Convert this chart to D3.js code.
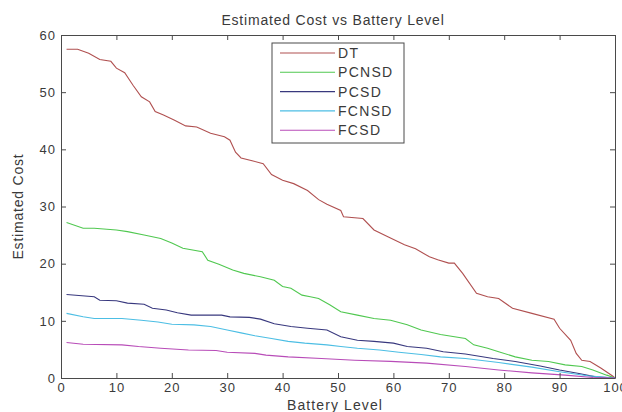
<!DOCTYPE html>
<meta charset="utf-8">
<style>
body { margin: 0; background: #fff; }
text { font-family: "Liberation Sans", Arial, sans-serif; fill: #3a3a3a; }
</style>
<body>
<div id="box1"></div>
<script src="https://d3js.org/d3.v7.min.js"></script>
<script>

// battery level / estimated cost
var dtX = [1, 3, 5, 7, 9, 10, 11.5, 13, 14.5, 16, 17, 18.5, 20.5, 22.5, 24.5, 27, 29.5, 30.5, 31.5, 32.5, 34.5, 36.5, 38, 40, 42, 44.5, 46.5, 48, 50.5, 51, 54.5, 56.5, 59, 62, 64, 66.5, 68, 70, 71, 72.5, 75, 77, 79, 81.5, 85, 89, 90, 92, 93, 94, 95.5, 97.5, 99.5, 100]
var dtY = [57.5, 57.5, 56.8, 55.7, 55.4, 54.2, 53.4, 51.2, 49.2, 48.3, 46.6, 46, 45.1, 44.1, 43.9, 42.8, 42.2, 41.6, 39.5, 38.5, 38, 37.5, 35.6, 34.6, 34, 32.8, 31.2, 30.4, 29.3, 28.2, 27.9, 25.9, 24.7, 23.3, 22.6, 21.2, 20.7, 20.1, 20.1, 18.3, 14.8, 14.2, 13.9, 12.2, 11.3, 10.3, 8.7, 6.6, 4.3, 3.1, 2.9, 1.7, 0.4, 0]

var pcnsdX = [1, 4, 6, 10, 12, 15, 18, 20, 22, 25.5, 26.5, 28.5, 31, 33, 36, 38.5, 40, 41.5, 43.5, 45, 46.5, 48.5, 50.5, 53.5, 56.5, 59.5, 62.5, 65, 68.5, 73, 74.5, 77, 79, 82, 85, 88, 91, 94, 96, 98.5, 100]
var pcnsdY = [27.2, 26.2, 26.2, 25.9, 25.6, 25, 24.4, 23.6, 22.7, 22.1, 20.6, 19.9, 18.9, 18.3, 17.7, 17.1, 16, 15.7, 14.5, 14.2, 13.9, 12.8, 11.6, 11, 10.4, 10.1, 9.3, 8.4, 7.6, 6.9, 5.8, 5.2, 4.6, 3.7, 3.1, 2.9, 2.3, 2, 1.4, 0.5, 0]

var pcsdX = [1, 6, 7, 10, 12, 15, 16.5, 19, 21, 23.5, 29, 30.5, 34, 36, 38.5, 41.5, 44.5, 48, 50.5, 53.5, 56.5, 60, 62.5, 66, 69, 73, 78, 82, 86.5, 90, 93.5, 96.5, 100]
var pcsdY = [14.6, 14.2, 13.6, 13.5, 13.1, 12.9, 12.2, 11.9, 11.4, 11, 11, 10.7, 10.6, 10.3, 9.5, 9, 8.7, 8.4, 7.2, 6.6, 6.4, 6.1, 5.5, 5.2, 4.6, 4.2, 3.4, 2.9, 2.1, 1.4, 0.8, 0.2, 0]

var fcnsdX = [1, 4, 6, 11, 14.5, 17.5, 20, 24, 27, 30, 32.5, 35, 38, 41, 44, 48, 50.5, 53.5, 57.5, 61, 65, 68.5, 73, 79, 85, 90, 95, 100]
var fcnsdY = [11.3, 10.7, 10.4, 10.4, 10.1, 9.8, 9.4, 9.3, 9, 8.4, 7.9, 7.4, 6.9, 6.4, 6.1, 5.8, 5.5, 5.2, 4.9, 4.5, 4.1, 3.7, 3.4, 2.7, 1.9, 1.1, 0.4, 0]

var fcsdX = [1, 4, 11, 14, 18, 23, 28, 30, 35, 37, 41, 47, 53, 59.5, 66, 73, 79, 85, 91, 96, 100]
var fcsdY = [6.2, 5.9, 5.8, 5.5, 5.2, 4.9, 4.8, 4.5, 4.3, 4.0, 3.7, 3.4, 3.1, 2.9, 2.6, 2.0, 1.4, 0.9, 0.5, 0.1, 0]

var names = ["DT", "PCNSD", "PCSD", "FCNSD", "FCSD"]
var colors = ["#b05050", "#50c850", "#38387e", "#4cbee4", "#b84cb8"]
var xTicks = [0, 10, 20, 30, 40, 50, 60, 70, 80, 90, 100]
var yTicks = [0, 10, 20, 30, 40, 50, 60]

var series = [[dtX, dtY], [pcnsdX, pcnsdY], [pcsdX, pcsdY], [fcnsdX, fcnsdY], [fcsdX, fcsdY]]
  .map((s, i) => ({name: names[i], color: colors[i], pts: s[0].map((x, j) => [x, s[1][j]])}))

var width = 622, height = 412
var margin = {top: 35, right: 7, bottom: 34, left: 61}

var x = d3.scaleLinear().domain([0, 100]).range([margin.left, width - margin.right])
var y = d3.scaleLinear().domain([0, 60]).range([height - margin.bottom, margin.top])

var svg = d3.select("#box1").append("svg")
    .attr("width", width)
    .attr("height", height)

// lines
var line = d3.line().x(d => x(d[0])).y(d => y(d[1]))
svg.append("g").selectAll("path")
  .data(series)
  .join("path")
    .attr("fill", "none")
    .attr("stroke", d => d.color)
    .attr("stroke-width", 1.1)
    .attr("d", d => line(d.pts))

// axes, ticks pointing inward on all four sides
svg.append("g")
    .attr("transform", `translate(0,${y(0)})`)
    .call(d3.axisBottom(x).tickValues(xTicks).tickSizeInner(-5).tickSizeOuter(0).tickPadding(5))
svg.append("g")
    .attr("transform", `translate(0,${y(60)})`)
    .call(d3.axisTop(x).tickValues(xTicks).tickSizeInner(-5).tickSizeOuter(0).tickFormat(""))
svg.append("g")
    .attr("transform", `translate(${x(0)},0)`)
    .call(d3.axisLeft(y).tickValues(yTicks).tickSizeInner(-5).tickSizeOuter(0).tickPadding(5))
svg.append("g")
    .attr("transform", `translate(${x(100)},0)`)
    .call(d3.axisRight(y).tickValues(yTicks).tickSizeInner(-5).tickSizeOuter(0).tickFormat(""))

svg.selectAll(".domain, .tick line").attr("stroke", "#4a4a4a")
svg.selectAll(".tick text")
    .style("font-size", "13px")
    .style("letter-spacing", "1px")
    .style("fill", "#3a3a3a")

// titles
svg.append("text")
    .attr("x", 333)
    .attr("y", 25)
    .attr("text-anchor", "middle")
    .style("font-size", "14px")
    .style("letter-spacing", "0.8px")
    .text("Estimated Cost vs Battery Level")

svg.append("text")
    .attr("x", 335)
    .attr("y", 410)
    .attr("text-anchor", "middle")
    .style("font-size", "14px")
    .style("letter-spacing", "1.1px")
    .text("Battery Level")

svg.append("text")
    .attr("transform", `translate(23,${(y(0) + y(60)) / 2}) rotate(-90)`)
    .attr("text-anchor", "middle")
    .style("font-size", "14px")
    .style("letter-spacing", "0.8px")
    .text("Estimated Cost")

// legend
var lg = svg.append("g").attr("transform", "translate(272,43)")
lg.append("rect")
    .attr("width", 132)
    .attr("height", 100)
    .attr("fill", "#fff")
    .attr("stroke", "#4a4a4a")
var item = lg.selectAll("g.item")
  .data(series)
  .join("g")
    .attr("class", "item")
    .attr("transform", (d, i) => `translate(0,${10 + i * 19.3})`)
item.append("line")
    .attr("x1", 8).attr("x2", 63)
    .attr("stroke", d => d.color)
    .attr("stroke-width", 1.1)
item.append("text")
    .attr("x", 66)
    .attr("dy", "0.36em")
    .style("font-size", "14px")
    .style("letter-spacing", "1.3px")
    .text(d => d.name)

</script>
</body>
